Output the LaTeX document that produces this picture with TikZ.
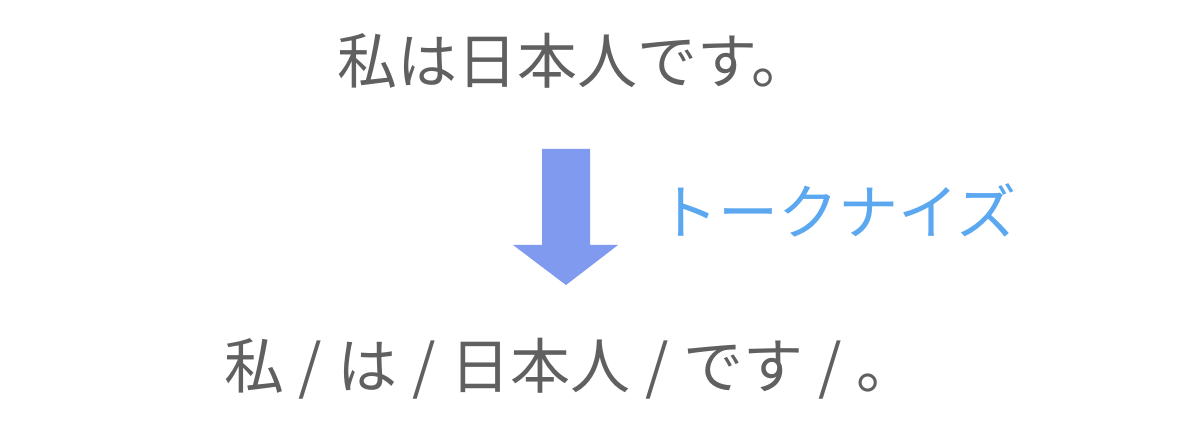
\documentclass[tikz,border=0pt]{standalone}
\usepackage{fontspec}
\newfontfamily\jp{Noto Sans CJK JP}
\newfontfamily\jpwide[WordSpace=1.05]{Noto Sans CJK JP}
\definecolor{txtgray}{HTML}{606060}
\definecolor{arrowblue}{HTML}{7F9AEE}
\definecolor{lblblue}{HTML}{5BA8F0}
\begin{document}
\begin{tikzpicture}[x=1pt,y=1pt,
  jptext/.style={font=\jp\fontsize{60}{62}\selectfont, inner sep=0pt},
  jpwidetext/.style={font=\jpwide\fontsize{60}{62}\selectfont, inner sep=0pt}]
\useasboundingbox (0,0) rectangle (1200,436);
\node[jptext, text=txtgray, anchor=west] (src) at (337,375) {私は日本人です。};
\fill[arrowblue] (542,287) -- (590,287) -- (590,191) -- (618,191) -- (566,151) -- (513,191) -- (542,191) -- cycle;
\node[jptext, text=lblblue, anchor=west] (lbl) at (658,226) {トークナイズ};
\node[jpwidetext, text=txtgray, anchor=west] (dst) at (224,67) {私 / は / 日本人 / です / 。};
\end{tikzpicture}
\end{document}
